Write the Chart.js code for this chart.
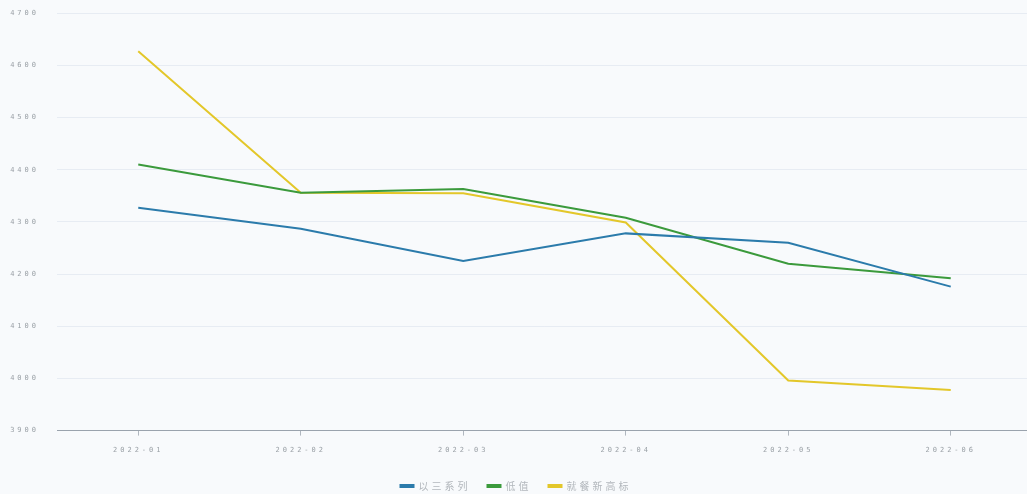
<!DOCTYPE html>
<html>
<head>
<meta charset="utf-8">
<script src="https://cdn.jsdelivr.net/npm/chart.js@4/dist/chart.umd.min.js"></script>
<style>
  html, body { margin: 0; padding: 0; overflow: hidden; background: #f8fafc; }
  #wrap { width: 1032px; height: 494px; overflow: hidden; position: relative; }
  #chart { position: absolute; left: 0; top: -9px; }
</style>
</head>
<body>
<div id="wrap"><canvas id="chart" width="1032" height="510"></canvas></div>
<script>
const months = ['2022-01', '2022-02', '2022-03', '2022-04', '2022-05', '2022-06'];
const seriesNames = ['以三系列', '低值', '就餐新高标'];
const blueValues = [4327, 4287, 4225, 4278, 4260, 4176];
const greenValues = [4410, 4356, 4363, 4308, 4220, 4192];
const yellowValues = [4627, 4356, 4355, 4299, 3996, 3978];
const yTicks = [3900, 4000, 4100, 4200, 4300, 4400, 4500, 4600, 4700];

const colors = ['#2b7bab', '#3b9a3c', '#e3c72a'];

// the scan shows widely spaced glyphs everywhere
const spacing = {
    id: 'spacing',
    beforeUpdate(chart) { chart.ctx.letterSpacing = '3px'; },
    beforeDraw(chart) { chart.ctx.letterSpacing = '3px'; }
};

const ctx = document.getElementById('chart').getContext('2d');
new Chart(ctx, {
    type: 'line',
    data: {
        labels: months,
        datasets: [blueValues, greenValues, yellowValues].map((vals, i) => ({
            label: seriesNames[i],
            data: vals,
            borderColor: colors[i],
            backgroundColor: colors[i],
            borderWidth: 2,
            pointRadius: 0,
            tension: 0,
            fill: false
        }))
    },
    plugins: [spacing],
    options: {
        responsive: false,
        animation: false,
        layout: { padding: 0 },
        plugins: {
            legend: {
                position: 'bottom',
                labels: {
                    boxWidth: 13,
                    boxHeight: 2,
                    padding: 17,
                    color: '#b2b7bc',
                    font: { family: 'Noto Sans CJK SC', size: 10 }
                }
            },
            tooltip: { enabled: false }
        },
        scales: {
            x: {
                offset: true,
                grid: {
                    display: true,
                    drawOnChartArea: false,
                    drawTicks: true,
                    tickLength: 5,
                    tickColor: '#b0b7bf',
                    offset: false
                },
                border: { display: true, color: '#9aa3ad', width: 1 },
                ticks: {
                    color: '#9aa0a6',
                    padding: 10,
                    font: { family: 'DejaVu Sans Mono', size: 7 }
                }
            },
            y: {
                min: 3900,
                max: 4700,
                afterFit: s => { s.width = 57; },
                afterBuildTicks: s => { s.ticks = yTicks.map(v => ({ value: v })); },
                grid: {
                    color: 'rgba(200, 210, 225, 0.35)',
                    drawTicks: false
                },
                border: { display: false },
                ticks: {
                    color: '#9aa0a6',
                    padding: 18,
                    callback: v => String(v),
                    font: { family: 'DejaVu Sans Mono', size: 7 }
                }
            }
        }
    }
});
</script>
</body>
</html>
